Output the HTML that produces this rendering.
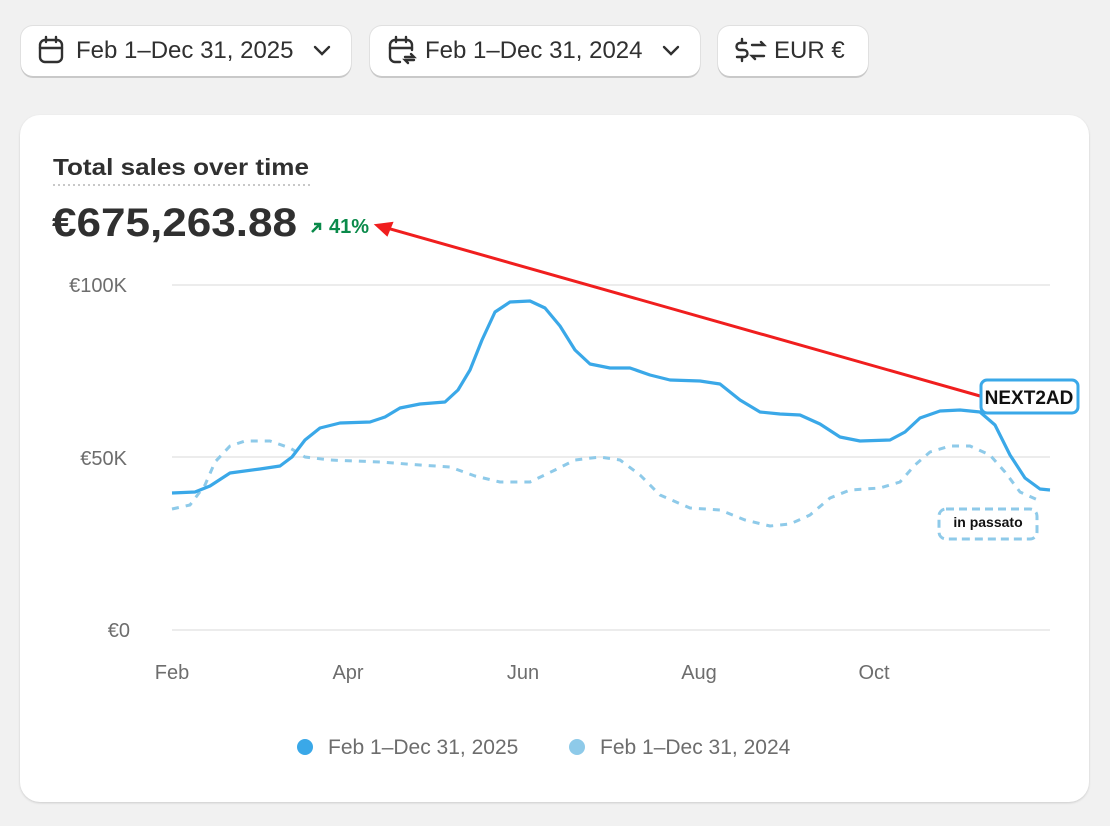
<!DOCTYPE html>
<html><head><meta charset="utf-8"><style>
body{margin:0;width:1110px;height:826px;background:#f1f1f1;font-family:"Liberation Sans",sans-serif;position:relative;overflow:hidden;color:#303030}
.btn{position:absolute;top:26px;height:50px;background:#fff;border-radius:12px;box-shadow:0 2px 0 #c9c9c9,0 0 0 1px #e0e0e0;font-size:24px;line-height:50px;box-sizing:border-box;padding-left:55px}
.card{position:absolute;left:20px;top:115px;width:1069px;height:687px;background:#fff;border-radius:20px;box-shadow:0 1px 2px #ccc}
</style></head><body>
<div class="card"></div>
<div class="btn" style="left:21px;width:330px">Feb 1–Dec 31, 2025</div>
<div class="btn" style="left:370px;width:330px">Feb 1–Dec 31, 2024</div>
<div class="btn" style="left:718px;width:150px;padding-left:56px">EUR €</div>
<svg width="1110" height="826" style="position:absolute;left:0;top:0" font-family="Liberation Sans, sans-serif">
<g fill="none" stroke="#303030" stroke-width="2.4" stroke-linecap="round">
<rect x="40" y="40" width="22" height="22" rx="5"/><line x1="40" y1="48" x2="62" y2="48"/><line x1="46" y1="37" x2="46" y2="42"/><line x1="56" y1="37" x2="56" y2="42"/>
<path d="M315 47 l7 7 l7 -7"/>
<path d="M400 62 h-5 a5 5 0 0 1 -5 -5 v-12 a5 5 0 0 1 5 -5 h12 a5 5 0 0 1 5 5 v5"/><line x1="390" y1="48" x2="412" y2="48"/><line x1="396" y1="37" x2="396" y2="42"/><line x1="406" y1="37" x2="406" y2="42"/><path d="M405 57 h9 l-3 -3 M414 60 h-9 l3 3"/>
<path d="M664 47 l7 7 l7 -7"/>
<path d="M746 43 h-6 a3 3 0 0 0 0 7 h4 a3 3 0 0 1 0 7 h-7 M742 39 v4 M742 57 v4 M752 45 h12 l-3 -3 M764 56 h-12 l3 3"/>
</g>
<text x="53" y="175" font-size="23" fill="#303030" font-weight="bold" textLength="256" lengthAdjust="spacingAndGlyphs">Total sales over time</text>
<line x1="53" y1="185" x2="310" y2="185" stroke="#c8c8c8" stroke-width="2" stroke-dasharray="2 3"/>
<text x="52" y="236" font-size="40" font-weight="bold" fill="#303030" textLength="245" lengthAdjust="spacingAndGlyphs">€675,263.88</text>
<path d="M312 232 l8 -8 M314 224 h6 v6" stroke="#0a8a4a" stroke-width="2.5" fill="none"/>
<text x="329" y="233" font-size="20" font-weight="bold" fill="#0a8a4a">41%</text>
<g stroke="#e6e6e6" stroke-width="1.5"><line x1="172" y1="285" x2="1050" y2="285"/><line x1="172" y1="457" x2="1050" y2="457"/><line x1="172" y1="630" x2="1050" y2="630"/></g>
<g font-size="20" fill="#6d6d6d" text-anchor="end"><text x="127" y="292">€100K</text><text x="127" y="465">€50K</text><text x="130" y="637">€0</text></g>
<g font-size="20" fill="#6d6d6d" text-anchor="middle"><text x="172" y="679">Feb</text><text x="348" y="679">Apr</text><text x="523" y="679">Jun</text><text x="699" y="679">Aug</text><text x="874" y="679">Oct</text></g>
<polyline fill="none" stroke="#8ecae9" stroke-width="3" stroke-dasharray="7 7" stroke-linejoin="round" points="172,509 190,505 205,485 215,462 230,446 245,441 270,441 290,448 305,457 330,460 380,462 420,465 450,467 475,476 500,482 530,482 555,470 575,460 600,457 620,460 640,475 660,495 690,508 720,510 745,520 770,526 790,524 810,515 830,498 850,490 880,488 900,482 915,465 930,452 950,446 970,446 990,455 1005,472 1020,492 1040,501"/>
<polyline fill="none" stroke="#3aa8e8" stroke-width="3.2" stroke-linejoin="round" points="172,493 195,492 210,486 230,473 260,469 280,466 292,457 305,440 320,428 340,423 370,422 385,417 400,408 420,404 445,402 458,390 470,370 482,340 495,312 510,302 530,301 545,308 560,326 575,350 590,364 610,368 630,368 650,375 670,380 700,381 720,384 740,400 760,412 780,414 800,415 820,424 840,437 860,441 890,440 905,432 920,418 940,411 960,410 980,412 995,425 1010,455 1025,478 1040,489 1050,490"/>
<line x1="980" y1="396" x2="380" y2="226" stroke="#f01e1e" stroke-width="3"/>
<path d="M376 225 l16 -2 l-5 12 z" fill="#f01e1e" stroke="#f01e1e" stroke-width="2"/>
<rect x="981" y="380" width="97" height="33" rx="6" fill="#fff" stroke="#3aa8e8" stroke-width="3"/>
<text x="1029" y="404" font-size="19" font-weight="bold" text-anchor="middle" fill="#111">NEXT2AD</text>
<rect x="939" y="509" width="98" height="30" rx="7" fill="#fff" stroke="#8ecae9" stroke-width="3" stroke-dasharray="8 5"/>
<text x="988" y="527" font-size="14" font-weight="bold" text-anchor="middle" fill="#111">in passato</text>
<circle cx="305" cy="747" r="8" fill="#3aa8e8"/><text x="328" y="754" font-size="21" fill="#6d6d6d">Feb 1–Dec 31, 2025</text>
<circle cx="577" cy="747" r="8" fill="#8ecae9"/><text x="600" y="754" font-size="21" fill="#6d6d6d">Feb 1–Dec 31, 2024</text>
</svg>
</body></html>
